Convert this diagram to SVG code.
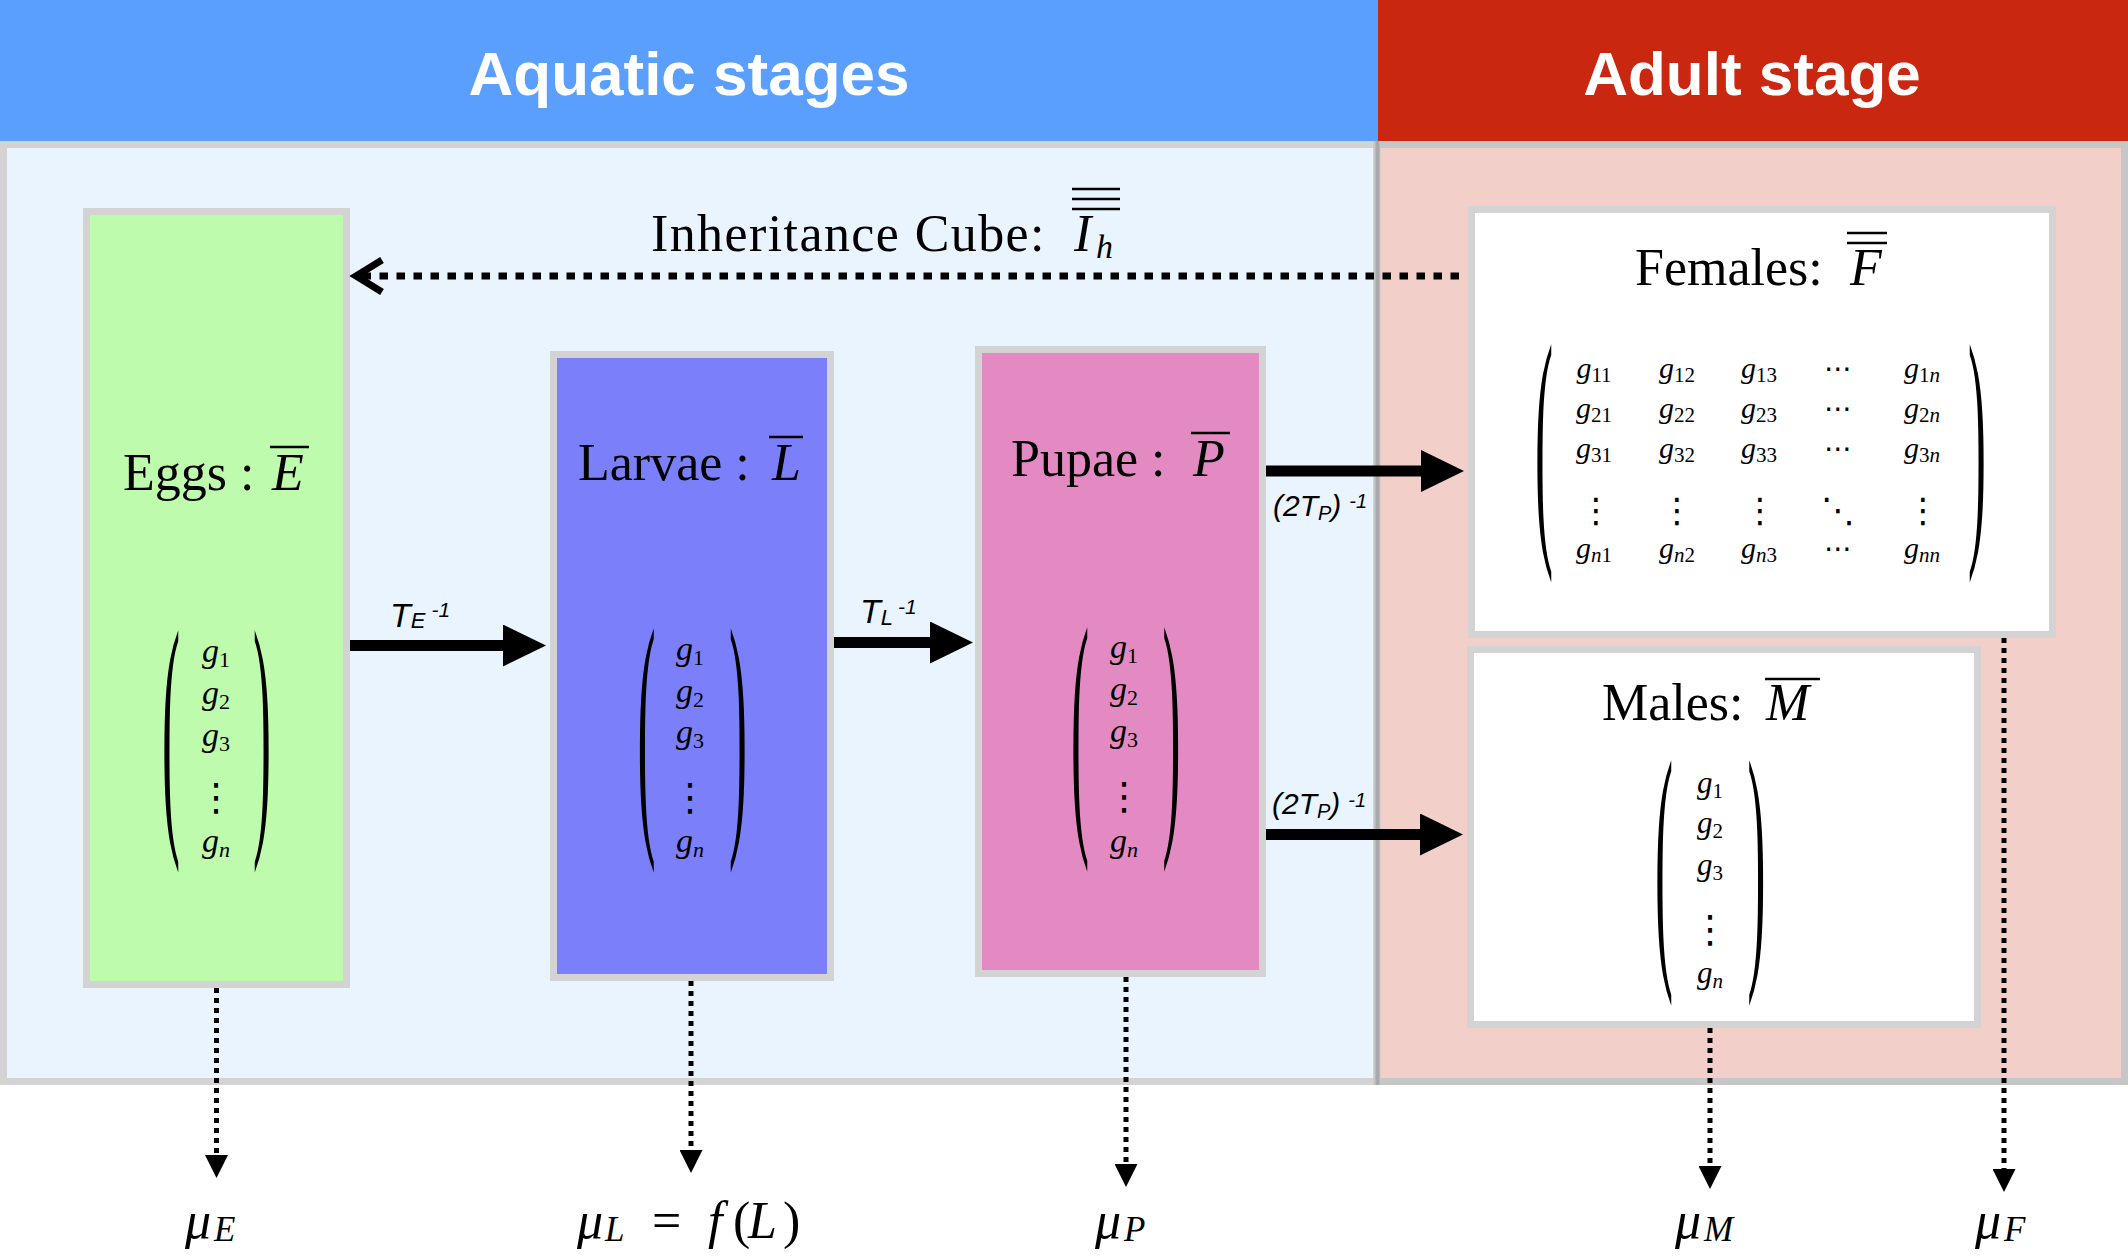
<svg xmlns="http://www.w3.org/2000/svg" width="2128" height="1259" viewBox="0 0 2128 1259">
<defs>
<style>
.hdr{font-family:"Liberation Sans",Arial,sans-serif;font-weight:bold;font-size:62px;fill:#fff;text-anchor:middle}
.lbl{font-family:"Liberation Serif","Times New Roman",serif;font-size:52px;fill:#000}
.it{font-style:italic}
.g{font-family:"Liberation Serif","Times New Roman",serif;font-style:italic;font-size:34px;text-anchor:middle;fill:#000}
.gf{font-size:30px}
.gm{font-size:31px}
.gs{font-style:normal}
.dots{font-family:"DejaVu Sans",sans-serif;text-anchor:middle;fill:#000}
.par{font-family:"Liberation Serif","Times New Roman",serif;font-size:54px;text-anchor:middle;fill:#000}
.tl{font-family:"Liberation Sans",Arial,sans-serif;font-style:italic;fill:#000}
.box{stroke:#d3d3d3;stroke-width:7}
.ov{stroke:#000;stroke-width:2.5}
.thick{stroke:#000;stroke-width:11;fill:none;marker-end:url(#big)}
.dotv{stroke:#000;stroke-width:5;stroke-dasharray:5 5;fill:none;marker-end:url(#small)}
.doth{stroke:#000;stroke-width:7;stroke-dasharray:8.5 8.5;fill:none;marker-end:url(#open)}
.mu{font-family:"Liberation Serif","Times New Roman",serif;font-style:italic;font-size:52px;fill:#000}
.up{font-style:normal}
</style>
<marker id="big" markerUnits="userSpaceOnUse" viewBox="0 0 43 42" markerWidth="43" markerHeight="42" refX="13" refY="21" orient="auto"><path d="M0,0L43,21L0,42z" fill="#000"/></marker>
<marker id="small" markerUnits="userSpaceOnUse" viewBox="0 0 23 23" markerWidth="23" markerHeight="23" refX="11" refY="11.5" orient="auto"><path d="M0,0L23,11.5L0,23z" fill="#000"/></marker>
<marker id="open" markerUnits="userSpaceOnUse" viewBox="-36 -24 44 48" markerWidth="44" markerHeight="48" refX="0" refY="0" orient="auto"><path d="M-26,-16L0,0L-26,16" fill="none" stroke="#000" stroke-width="7"/></marker>
</defs>

<g id="background">
<rect x="0" y="0" width="2128" height="1259" fill="#fff"/>
<rect x="0" y="0" width="1378" height="141" fill="#5a9ffe"/>
<rect x="1378" y="0" width="750" height="141" fill="#ca2711"/>
<text class="hdr" x="689" y="95">Aquatic stages</text>
<text class="hdr" x="1752" y="95">Adult stage</text>
<rect x="3.5" y="144.5" width="1373.5" height="937" fill="#eaf4ff" stroke="#d3d3d3" stroke-width="7"/>
<rect x="1377" y="144.5" width="747.5" height="937" fill="#f3cfca" stroke="#c6c6c6" stroke-width="7"/>
<line x1="1377.5" y1="141" x2="1377.5" y2="1085" stroke="#a9a9a9" stroke-width="4"/>
</g>

<g id="eggs">
<rect class="box" x="86.5" y="211.5" width="260" height="773" fill="#bffbad"/>
<text class="lbl" x="123" y="490">Eggs :<tspan class="it" x="272">E</tspan></text>
<line class="ov" x1="270" y1="447" x2="309" y2="447"/>
<text class="par" transform="translate(171,815.7) scale(1,4.95)">(</text>
<text class="par" transform="translate(262,815.7) scale(1,4.95)">)</text>
<text class="g" x="216" y="662">g<tspan class="gs" font-size="22" dy="5">1</tspan></text>
<text class="g" x="216" y="704">g<tspan class="gs" font-size="22" dy="5">2</tspan></text>
<text class="g" x="216" y="746">g<tspan class="gs" font-size="22" dy="5">3</tspan></text>
<text class="dots" x="216" y="810" font-size="38">⋮</text>
<text class="g" x="216" y="852">g<tspan font-size="22" dy="5">n</tspan></text>
</g>

<g id="larvae">
<rect class="box" x="553.5" y="354.5" width="277" height="623" fill="#7b80fa"/>
<text class="lbl" x="578" y="480">Larvae :<tspan class="it" x="772">L</tspan></text>
<line class="ov" x1="769" y1="437" x2="803" y2="437"/>
<text class="par" transform="translate(646.5,815.3) scale(1,4.993)">(</text>
<text class="par" transform="translate(738,815.3) scale(1,4.993)">)</text>
<text class="g" x="690" y="660">g<tspan class="gs" font-size="22" dy="5">1</tspan></text>
<text class="g" x="690" y="702">g<tspan class="gs" font-size="22" dy="5">2</tspan></text>
<text class="g" x="690" y="743">g<tspan class="gs" font-size="22" dy="5">3</tspan></text>
<text class="dots" x="690" y="810" font-size="38">⋮</text>
<text class="g" x="690" y="852">g<tspan font-size="22" dy="5">n</tspan></text>
</g>

<g id="pupae">
<rect class="box" x="978.5" y="349.5" width="284" height="624" fill="#e38ac3"/>
<text class="lbl" x="1011" y="476">Pupae :<tspan class="it" x="1193">P</tspan></text>
<line class="ov" x1="1191" y1="433" x2="1230" y2="433"/>
<text class="par" transform="translate(1080,814.3) scale(1,4.993)">(</text>
<text class="par" transform="translate(1171.5,814.3) scale(1,4.993)">)</text>
<text class="g" x="1124" y="658">g<tspan class="gs" font-size="22" dy="5">1</tspan></text>
<text class="g" x="1124" y="700">g<tspan class="gs" font-size="22" dy="5">2</tspan></text>
<text class="g" x="1124" y="742">g<tspan class="gs" font-size="22" dy="5">3</tspan></text>
<text class="dots" x="1124" y="809" font-size="38">⋮</text>
<text class="g" x="1124" y="852">g<tspan font-size="22" dy="5">n</tspan></text>
</g>

<g id="females">
<rect class="box" x="1471.5" y="209.5" width="581" height="425" fill="#fff"/>
<text class="lbl" x="1635" y="285">Females:<tspan class="it" x="1850">F</tspan></text>
<line class="ov" x1="1847" y1="233" x2="1887" y2="233"/>
<line class="ov" x1="1847" y1="243" x2="1887" y2="243"/>
<text class="par" transform="translate(1544,526.5) scale(1,4.863)">(</text>
<text class="par" transform="translate(1977,526.5) scale(1,4.863)">)</text>
<text class="g gf" x="1594" y="378">g<tspan class="gs" font-size="21" dy="4">11</tspan></text>
<text class="g gf" x="1677" y="378">g<tspan class="gs" font-size="21" dy="4">12</tspan></text>
<text class="g gf" x="1759" y="378">g<tspan class="gs" font-size="21" dy="4">13</tspan></text>
<text class="dots" x="1838" y="378" font-size="28">⋯</text>
<text class="g gf" x="1922" y="378">g<tspan class="gs" font-size="21" dy="4">1</tspan><tspan font-size="21">n</tspan></text>
<text class="g gf" x="1594" y="418">g<tspan class="gs" font-size="21" dy="4">21</tspan></text>
<text class="g gf" x="1677" y="418">g<tspan class="gs" font-size="21" dy="4">22</tspan></text>
<text class="g gf" x="1759" y="418">g<tspan class="gs" font-size="21" dy="4">23</tspan></text>
<text class="dots" x="1838" y="418" font-size="28">⋯</text>
<text class="g gf" x="1922" y="418">g<tspan class="gs" font-size="21" dy="4">2</tspan><tspan font-size="21">n</tspan></text>
<text class="g gf" x="1594" y="458">g<tspan class="gs" font-size="21" dy="4">31</tspan></text>
<text class="g gf" x="1677" y="458">g<tspan class="gs" font-size="21" dy="4">32</tspan></text>
<text class="g gf" x="1759" y="458">g<tspan class="gs" font-size="21" dy="4">33</tspan></text>
<text class="dots" x="1838" y="458" font-size="28">⋯</text>
<text class="g gf" x="1922" y="458">g<tspan class="gs" font-size="21" dy="4">3</tspan><tspan font-size="21">n</tspan></text>
<text class="dots" x="1596" y="522" font-size="34">⋮</text>
<text class="dots" x="1677" y="522" font-size="34">⋮</text>
<text class="dots" x="1760" y="522" font-size="34">⋮</text>
<text class="dots" x="1838" y="522" font-size="34">⋱</text>
<text class="dots" x="1923" y="522" font-size="34">⋮</text>
<text class="g gf" x="1594" y="558">g<tspan font-size="21" dy="4">n</tspan><tspan class="gs" font-size="21">1</tspan></text>
<text class="g gf" x="1677" y="558">g<tspan font-size="21" dy="4">n</tspan><tspan class="gs" font-size="21">2</tspan></text>
<text class="g gf" x="1759" y="558">g<tspan font-size="21" dy="4">n</tspan><tspan class="gs" font-size="21">3</tspan></text>
<text class="dots" x="1838" y="558" font-size="28">⋯</text>
<text class="g gf" x="1922" y="558">g<tspan font-size="21" dy="4">nn</tspan></text>
</g>

<g id="males">
<rect class="box" x="1470.5" y="649.5" width="507" height="375" fill="#fff"/>
<text class="lbl" x="1602" y="720">Males:<tspan class="it" x="1766">M</tspan></text>
<line class="ov" x1="1765" y1="679" x2="1820" y2="679"/>
<text class="par" transform="translate(1664,948.1) scale(1,5.015)">(</text>
<text class="par" transform="translate(1756.5,948.1) scale(1,5.015)">)</text>
<text class="g gm" x="1710" y="793">g<tspan class="gs" font-size="21" dy="5">1</tspan></text>
<text class="g gm" x="1710" y="833">g<tspan class="gs" font-size="21" dy="5">2</tspan></text>
<text class="g gm" x="1710" y="875">g<tspan class="gs" font-size="21" dy="5">3</tspan></text>
<text class="dots" x="1710" y="942" font-size="38">⋮</text>
<text class="g gm" x="1710" y="983">g<tspan font-size="21" dy="5">n</tspan></text>
</g>

<g id="connectors">
<line class="doth" x1="1459" y1="276" x2="356" y2="276"/>
<line class="thick" x1="350" y1="645.5" x2="516" y2="645.5"/>
<line class="thick" x1="834" y1="642.5" x2="943" y2="642.5"/>
<line class="thick" x1="1266" y1="471" x2="1434" y2="471"/>
<line class="thick" x1="1266" y1="834.5" x2="1433" y2="834.5"/>
<line class="dotv" x1="216.5" y1="988" x2="216.5" y2="1166"/>
<line class="dotv" x1="691" y1="981" x2="691" y2="1161"/>
<line class="dotv" x1="1126" y1="977" x2="1126" y2="1175"/>
<line class="dotv" x1="1710" y1="1028" x2="1710" y2="1177"/>
<line class="dotv" x1="2004" y1="638" x2="2004" y2="1180"/>
</g>

<g id="edge-labels">
<text class="lbl" x="651" y="251" letter-spacing="1.4">Inheritance Cube:<tspan class="it" x="1074" letter-spacing="0">I</tspan><tspan class="it" x="1096" dy="7" font-size="34" letter-spacing="0">h</tspan></text>
<line class="ov" x1="1072" y1="189" x2="1120" y2="189"/>
<line class="ov" x1="1072" y1="199" x2="1120" y2="199"/>
<line class="ov" x1="1072" y1="209" x2="1120" y2="209"/>
<text class="tl" x="390" y="627" font-size="34">T<tspan font-size="22" dy="1">E</tspan><tspan font-size="21" dx="6" dy="-11">-1</tspan></text>
<text class="tl" x="860" y="623" font-size="34">T<tspan font-size="22" dy="2">L</tspan><tspan font-size="21" dx="5" dy="-11">-1</tspan></text>
<text class="tl" x="1273" y="516" font-size="30">(2T<tspan font-size="20" dy="4">P</tspan><tspan dy="-4">)</tspan><tspan font-size="20" dx="8" dy="-8">-1</tspan></text>
<text class="tl" x="1272" y="814" font-size="30">(2T<tspan font-size="20" dy="4">P</tspan><tspan dy="-4">)</tspan><tspan font-size="20" dx="8" dy="-7">-1</tspan></text>
</g>

<g id="mu-E"><text class="mu" x="185" y="1238">μ<tspan x="214" font-size="35" dy="3">E</tspan></text></g>
<g id="mu-L"><text class="mu" x="577" y="1238">μ<tspan x="605" font-size="35" dy="3">L</tspan><tspan class="up" x="652" dy="-3">=</tspan><tspan x="708">f</tspan><tspan class="up" x="733">(</tspan><tspan x="748">L</tspan><tspan class="up" x="783">)</tspan></text></g>
<g id="mu-P"><text class="mu" x="1095" y="1238">μ<tspan x="1124" font-size="35" dy="3">P</tspan></text></g>
<g id="mu-M"><text class="mu" x="1675" y="1238">μ<tspan x="1704" font-size="35" dy="3">M</tspan></text></g>
<g id="mu-F"><text class="mu" x="1975" y="1238">μ<tspan x="2004" font-size="35" dy="3">F</tspan></text></g>
</svg>
